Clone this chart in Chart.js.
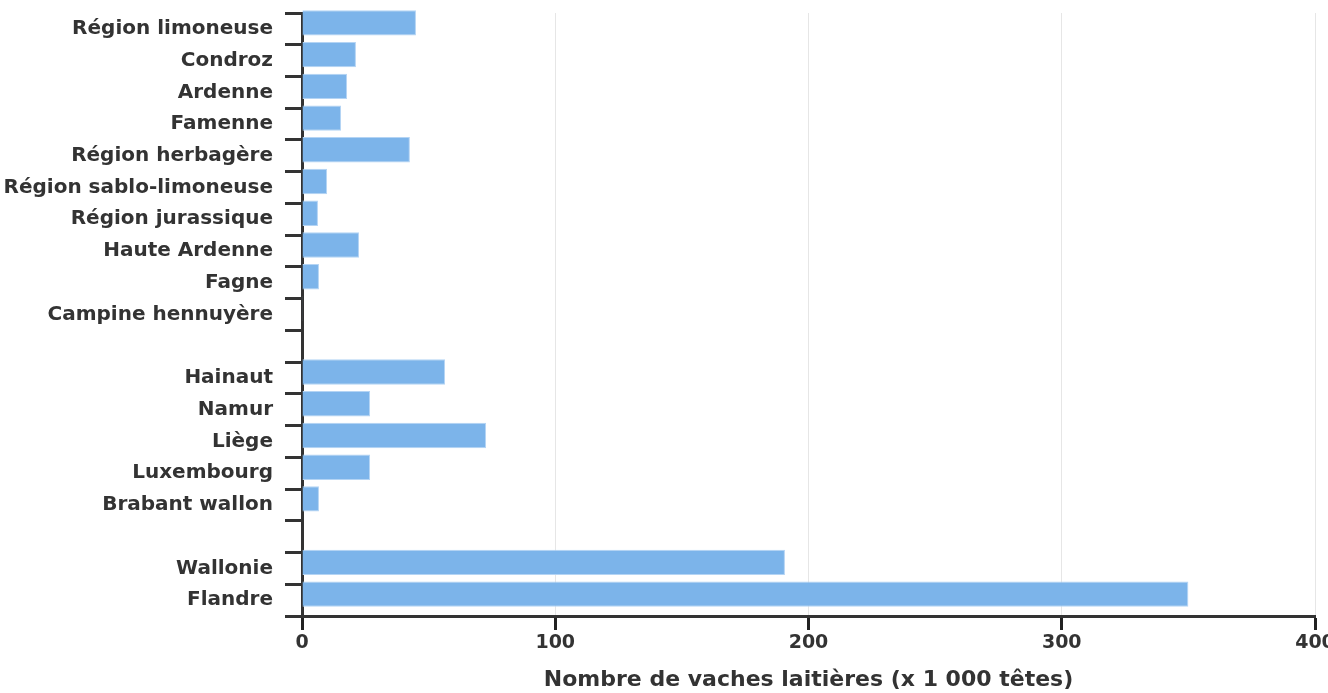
<!DOCTYPE html>
<html lang="fr">
<head>
<meta charset="UTF-8">
<title>Vaches laitières</title>
<script src="https://cdn.jsdelivr.net/npm/chart.js"></script>
<style>
  html, body { margin: 0; padding: 0; background: #fff; }
  #wrap { width: 1328px; height: 693px; }
</style>
</head>
<body>
<div id="wrap"><canvas id="myChart"></canvas></div>
<script>
const categories = [
  'Région limoneuse', 'Condroz', 'Ardenne', 'Famenne', 'Région herbagère',
  'Région sablo-limoneuse', 'Région jurassique', 'Haute Ardenne', 'Fagne',
  'Campine hennuyère', '', 'Hainaut', 'Namur', 'Liège', 'Luxembourg',
  'Brabant wallon', '', 'Wallonie', 'Flandre'
];
const vaches = [
  45, 21.3, 17.8, 15.4, 42.6,
  9.9, 6.3, 22.5, 6.7,
  0.3, null, 56.5, 26.9, 72.7, 26.9,
  6.7, null, 190.7, 350
];
const xTicks = [0, 100, 200, 300, 400];
const xTitle = 'Nombre de vaches laitières (x 1 000 têtes)';

const dark = '#333333';
const fam = "'DejaVu Sans', sans-serif";
const labelFont = { family: fam, size: 20, weight: 'bold' };
const tickFont = { family: fam, size: 19, weight: 'bold' };
const titleFont = { family: fam, size: 22, weight: 'bold' };

// in the original the bars sit a few pixels above the label slots
const barShift = {
  id: 'barShift',
  beforeDatasetsDraw(chart) { chart.ctx.save(); chart.ctx.translate(0, -6); },
  afterDatasetsDraw(chart) { chart.ctx.restore(); }
};

const ctx = document.getElementById('myChart');
new Chart(ctx, {
  type: 'bar',
  data: {
    labels: categories,
    datasets: [{
      data: vaches,
      backgroundColor: '#7cb4ea',
      borderColor: '#b4d4f4',
      borderWidth: 1,
      barPercentage: 0.8,
      categoryPercentage: 1,
      clip: false
    }]
  },
  options: {
    indexAxis: 'y',
    responsive: true,
    maintainAspectRatio: false,
    animation: false,
    layout: { padding: { top: 13, right: 13, bottom: 0, left: 0 } },
    plugins: { legend: { display: false }, tooltip: { enabled: false } },
    scales: {
      y: {
        afterFit: s => { s.width = 302; s.paddingTop = 0; s.paddingBottom = 0; },
        grid: { drawOnChartArea: false, drawTicks: true, tickLength: 17, tickColor: dark, tickWidth: 3 },
        border: { display: true, color: dark, width: 3 },
        ticks: { color: dark, font: labelFont, padding: 12, autoSkip: false }
      },
      x: {
        min: 0,
        max: 400,
        afterFit: s => { s.height = 77; s.paddingLeft = 0; s.paddingRight = 0; },
        afterBuildTicks: s => { s.ticks = xTicks.map(v => ({ value: v })); },
        grid: { color: '#e6e6e6', lineWidth: 1, drawTicks: true, tickLength: 14, tickColor: '#222', tickWidth: 3 },
        border: { display: true, color: dark, width: 3 },
        ticks: { color: dark, font: tickFont, padding: 2 },
        title: { display: true, text: xTitle, color: dark, font: titleFont, padding: { top: 4, bottom: 0 } }
      }
    }
  },
  plugins: [barShift]
});
</script>
</body>
</html>
